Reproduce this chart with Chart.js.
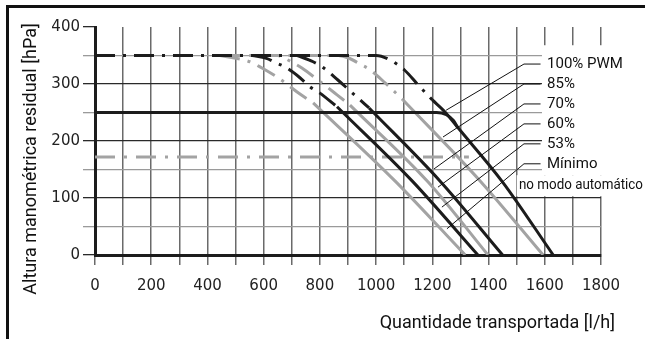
<!DOCTYPE html>
<html>
<head>
<meta charset="utf-8">
<script src="https://cdn.jsdelivr.net/npm/chart.js@4"></script>
<style>
html, body { margin: 0; padding: 0; background: #fff; }
#wrap { position: relative; width: 645px; height: 339px; overflow: hidden; }
#frame { position: absolute; left: 6px; top: 5px; width: 700px; height: 400px; border-top: 3px solid #111; border-left: 3px solid #111; }
canvas { position: absolute; left: 0; top: 0; }
</style>
</head>
<body>
<div id="wrap">
  <canvas id="pumpChart" width="645" height="339"></canvas>
  <div id="frame"></div>
</div>
<script>
// curve data (flow l/h, head hPa)
// upper part is drawn dash-dot, lower part solid
var flow100Top = [0, 1000, 1050, 1100, 1150, 1200];
var head100Top = [350, 350, 342, 325, 298, 272];
var flow100 = [1200, 1245, 1290, 1450, 1630];
var head100 = [272, 251, 224, 128, 0];

var flow85Top = [450, 861, 900, 943, 978, 1032, 1060, 1096];
var head85Top = [350, 350, 346, 335, 325, 302, 289, 272];
var flow85 = [1096, 1370, 1594];
var head85 = [272, 130, 0];

var flow70Top = [720, 776, 808, 864, 896, 932, 975];
var head70Top = [350, 339, 330, 307, 293, 277, 258];
var flow70 = [975, 1227, 1450];
var head70 = [258, 130, 0];

var flow60Top = [450, 650, 694, 736, 793, 825, 861, 907];
var head60Top = [350, 350, 340, 328, 307, 295, 281, 263];
var flow60 = [907, 1185, 1398];
var head60 = [263, 128, 0];

var flow53Top = [560, 610, 644, 676, 729, 765, 800, 861];
var head53Top = [350, 345, 337, 330, 311, 295, 284, 260];
var flow53 = [861, 1128, 1362];
var head53 = [260, 130, 0];

var flowMinTop = [445, 551, 594, 651, 687, 719, 776];
var headMinTop = [350, 339, 328, 311, 298, 286, 267];
var flowMin = [776, 1067, 1317];
var headMin = [267, 130, 0];

// limit lines
var flowLimit250 = [0, 1215, 1250, 1275, 1290];
var headLimit250 = [250, 250, 246, 236, 224];
var flowLimit170 = [0, 1330];
var headLimit170 = [172, 172];

// labels with leader targets
var labelTexts = ["100% PWM", "85%", "70%", "60%", "53%", "Mínimo"];
var labelHeads = [335, 300, 265, 230, 195, 160];
var targetFlows = [1249, 1238, 1206, 1220, 1234, 1252];
var targetHeads = [254, 207, 151, 119, 84, 46];

var xTicks = [0, 200, 400, 600, 800, 1000, 1200, 1400, 1600, 1800];
var yTicks = [0, 100, 200, 300, 400];

var BLACK = "#1c1c1c";
var GRAY = "#a3a3a3";
var dashDot = [20, 8, 3, 8];

function pts(xs, ys) {
    var out = [];
    for (var i = 0; i < xs.length; i++) {
        out.push({ x: xs[i], y: ys[i] });
    }
    return out;
}

function curve(xs, ys, color, dash) {
    return {
        data: pts(xs, ys),
        borderColor: color,
        borderWidth: 3,
        borderDash: dash || [],
        pointRadius: 0,
        fill: false,
        cubicInterpolationMode: 'monotone'
    };
}

var labelPlugin = {
    id: 'curveLabels',
    afterDraw: function (chart) {
        var ctx = chart.ctx;
        var xs = chart.scales.x;
        var ys = chart.scales.y;
        ctx.save();
        // white box behind the labels
        ctx.fillStyle = "#fff";
        var bx = xs.getPixelForValue(1590);
        ctx.fillRect(bx, ys.getPixelForValue(368), chart.width - bx, ys.getPixelForValue(140) - ys.getPixelForValue(368));
        var bx2 = xs.getPixelForValue(1500);
        ctx.fillRect(bx2, ys.getPixelForValue(140), chart.width - bx2, ys.getPixelForValue(103) - ys.getPixelForValue(140));

        // leader lines
        ctx.strokeStyle = "#111";
        ctx.lineWidth = 1;
        var elbowX = xs.getPixelForValue(1526);
        var endX = xs.getPixelForValue(1585);
        for (var i = 0; i < labelTexts.length; i++) {
            var ly = ys.getPixelForValue(labelHeads[i]);
            ctx.beginPath();
            ctx.moveTo(xs.getPixelForValue(targetFlows[i]), ys.getPixelForValue(targetHeads[i]));
            ctx.lineTo(elbowX, ly);
            ctx.lineTo(endX, ly);
            ctx.stroke();
        }

        // label texts
        ctx.fillStyle = "#111";
        ctx.font = "15px Roboto";
        ctx.textBaseline = "middle";
        ctx.textAlign = "left";
        var tx = xs.getPixelForValue(1608);
        for (var j = 0; j < labelTexts.length; j++) {
            ctx.fillText(labelTexts[j], tx, ys.getPixelForValue(labelHeads[j]));
        }
        // second line squeezed to fit to the right edge
        var sub = "no modo automático";
        var sx = xs.getPixelForValue(1508);
        var w = ctx.measureText(sub).width;
        var k = Math.min(1, (chart.width - 2 - sx) / w);
        ctx.save();
        ctx.translate(sx, ys.getPixelForValue(123));
        ctx.scale(k, 1);
        ctx.fillText(sub, 0, 0);
        ctx.restore();

        // axis titles
        ctx.font = "18px Roboto";
        ctx.textAlign = "right";
        ctx.fillText("Quantidade transportada [l/h]", chart.chartArea.right + 14, chart.height - 16);
        ctx.translate(31, 159);
        ctx.rotate(-Math.PI / 2);
        ctx.textAlign = "center";
        ctx.fillText("Altura manométrica residual [hPa]", 0, 0);
        ctx.restore();
    }
};

var canvas = document.getElementById("pumpChart");
var chart = new Chart(canvas.getContext("2d"), {
    type: 'line',
    data: {
        datasets: [
            curve(flow100Top, head100Top, BLACK, dashDot),
            curve(flow100, head100, BLACK),
            curve(flowLimit250, headLimit250, BLACK),
            curve(flow70Top, head70Top, BLACK, dashDot),
            curve(flow70, head70, BLACK),
            curve(flow53Top, head53Top, BLACK, dashDot),
            curve(flow53, head53, BLACK),
            curve(flow85Top, head85Top, GRAY, dashDot),
            curve(flow85, head85, GRAY),
            curve(flow60Top, head60Top, GRAY, dashDot),
            curve(flow60, head60, GRAY),
            curve(flowMinTop, headMinTop, GRAY, dashDot),
            curve(flowMin, headMin, GRAY),
            curve(flowLimit170, headLimit170, GRAY, [20, 9, 3, 9])
        ]
    },
    options: {
        responsive: false,
        animation: false,
        events: [],
        layout: { padding: { top: 27, right: 44, left: 0, bottom: 0 } },
        plugins: { legend: { display: false }, tooltip: { enabled: false } },
        scales: {
            x: {
                type: 'linear',
                min: 0,
                max: 1800,
                ticks: {
                    stepSize: 100,
                    autoSkip: false,
                    maxRotation: 0,
                    padding: 12,
                    color: "#222",
                    font: { family: "DejaVu Sans", size: 15 },
                    callback: function (v) { return xTicks.indexOf(v) >= 0 ? v : ""; }
                },
                grid: { color: "#6a6a6a", lineWidth: 1.5, tickLength: 10, tickColor: "#6a6a6a" },
                border: { color: BLACK, width: 3 },
                afterFit: function (s) { s.height = 84; }
            },
            y: {
                min: 0,
                max: 400,
                ticks: {
                    stepSize: 50,
                    autoSkip: false,
                    padding: 3,
                    color: "#222",
                    font: { family: "DejaVu Sans", size: 15 },
                    callback: function (v) { return yTicks.indexOf(v) >= 0 ? v : ""; }
                },
                grid: {
                    color: function (c) {
                        if (c.tick.value === 400) return "rgba(0,0,0,0)";
                        return c.tick.value % 100 === 0 ? "#2a2a2a" : "#9a9a9a";
                    },
                    tickColor: function (c) { return c.tick.value % 100 === 0 ? "#2a2a2a" : "#9a9a9a"; },
                    lineWidth: 1.3,
                    tickLength: 12
                },
                border: { color: BLACK, width: 3 },
                afterFit: function (s) { s.width = 95; }
            }
        }
    },
    plugins: [labelPlugin]
});
</script>
</body>
</html>
